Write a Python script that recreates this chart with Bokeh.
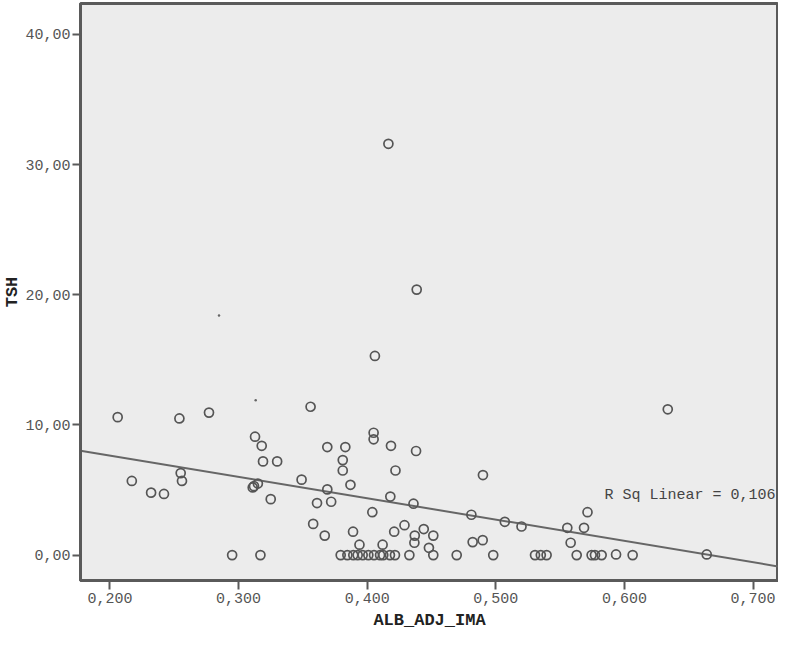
from bokeh.plotting import figure
from bokeh.models import FixedTicker, Range1d, ColumnDataSource
from bokeh.core.properties import value
from bokeh.embed import file_html
from bokeh.resources import INLINE

# ---- data ----
alb_adj_ima = [
    0.206, 0.217, 0.232, 0.242, 0.254, 0.255, 0.256, 0.277, 0.295,
    0.3128, 0.318, 0.319, 0.330, 0.311, 0.312, 0.315, 0.325, 0.317,
    0.356, 0.349, 0.369, 0.383, 0.381, 0.381, 0.369, 0.387, 0.361, 0.372,
    0.358, 0.367, 0.389, 0.394, 0.405, 0.405, 0.4185, 0.438, 0.422, 0.404,
    0.418, 0.436, 0.421, 0.429, 0.444, 0.437, 0.4367, 0.4514, 0.448, 0.412,
    0.490, 0.481, 0.482, 0.4898, 0.4165, 0.4385, 0.406, 0.6337, 0.5713,
    0.507, 0.520, 0.5556, 0.5686, 0.5582, 0.664, 0.5935,
    0.3794, 0.3846, 0.3892, 0.3926, 0.3965, 0.4009, 0.4053, 0.4100, 0.4125,
    0.4177, 0.4216, 0.4328, 0.4514, 0.4696, 0.498, 0.5305, 0.535, 0.5395,
    0.5629, 0.5745, 0.5771, 0.5823, 0.6064,
]
tsh = [
    10.6, 5.7, 4.8, 4.7, 10.5, 6.3, 5.7, 10.95, 0.0,
    9.1, 8.4, 7.2, 7.2, 5.2, 5.3, 5.5, 4.3, 0.0,
    11.4, 5.8, 8.3, 8.3, 7.3, 6.5, 5.05, 5.4, 4.0, 4.1,
    2.4, 1.5, 1.8, 0.8, 9.4, 8.9, 8.4, 8.0, 6.5, 3.3,
    4.5, 3.95, 1.8, 2.3, 2.0, 1.5, 0.95, 1.5, 0.56, 0.8,
    6.15, 3.1, 1.0, 1.15, 31.6, 20.4, 15.3, 11.2, 3.3,
    2.56, 2.2, 2.1, 2.1, 0.95, 0.05, 0.05,
    0.0, 0.0, 0.0, 0.0, 0.0, 0.0, 0.0, 0.0, 0.0,
    0.0, 0.0, 0.0, 0.0, 0.0, 0.0, 0.0, 0.0, 0.0,
    0.0, 0.0, 0.0, 0.0, 0.0,
]
# two tiny dot marks visible in the reference
dot_x = [0.2848, 0.3133]
dot_y = [18.4, 11.9]

x_ticks = [0.2, 0.3, 0.4, 0.5, 0.6, 0.7]
x_tick_labels = ["0,200", "0,300", "0,400", "0,500", "0,600", "0,700"]
y_ticks = [0, 10, 20, 30, 40]
y_tick_labels = ["0,00", "10,00", "20,00", "30,00", "40,00"]

fit_intercept = 10.93
fit_slope = -16.4
r_sq_text = "R Sq Linear = 0,106"
r_sq_pos = (0.5845, 4.6)

x_lo, x_hi = 0.1771, 0.7198
y_lo, y_hi = -1.95, 42.38

p = figure(
    width=778, height=632,
    x_range=Range1d(x_lo, x_hi), y_range=Range1d(y_lo, y_hi),
    output_backend="svg", toolbar_location=None,
    min_border_left=0, min_border_right=0, min_border_top=3, min_border_bottom=0,
)
p.background_fill_color = "#ececec"
p.border_fill_color = "white"
p.outline_line_color = "#5a5a5a"
p.outline_line_width = 3
p.grid.visible = False

frame_col = "#5a5a5a"
for ax in (p.xaxis[0], p.yaxis[0]):
    ax.axis_line_color = frame_col
    ax.axis_line_width = 3
    ax.major_tick_line_color = frame_col
    ax.major_tick_line_width = 2
    ax.major_tick_in = 0
    ax.minor_tick_line_color = None
    ax.major_label_text_font = "Liberation Mono"
    ax.major_label_text_font_size = "15px"
    ax.major_label_text_color = "#555555"
    ax.axis_label_text_font = "Liberation Mono"
    ax.axis_label_text_font_size = "17px"
    ax.axis_label_text_font_style = "bold"
    ax.axis_label_text_color = "#222222"

p.xaxis.ticker = FixedTicker(ticks=x_ticks)
p.xaxis.major_label_overrides = {t: l for t, l in zip(x_ticks, x_tick_labels)}
p.xaxis.major_tick_out = 9
p.xaxis.major_label_standoff = 3
p.xaxis.axis_label = "ALB_ADJ_IMA"
p.xaxis.axis_label_standoff = 5

p.yaxis.ticker = FixedTicker(ticks=y_ticks)
p.yaxis.major_label_overrides = {t: l for t, l in zip(y_ticks, y_tick_labels)}
p.yaxis.major_tick_out = 8
p.yaxis.major_label_standoff = 2
p.yaxis.axis_label = "TSH"
p.yaxis.axis_label_standoff = 0

# regression line
fit_x = [x_lo, x_hi]
fit_y = [fit_intercept + fit_slope * x for x in fit_x]
p.line(fit_x, fit_y, line_color="#666666", line_width=2)

src = ColumnDataSource(dict(x=alb_adj_ima, y=tsh))
p.scatter("x", "y", source=src, marker="circle", size=9,
          fill_alpha=0, line_color="#555555", line_width=1.7)
p.scatter(dot_x, dot_y, marker="circle", size=2.5,
          fill_color="#666666", line_color=None)

p.text(x=[r_sq_pos[0]], y=[r_sq_pos[1]], text=[r_sq_text],
       text_font=value("Liberation Mono"), text_font_size="15px",
       text_color="#444444", text_baseline="middle", text_align="left")

open("out.html", "w").write(file_html(p, INLINE))
